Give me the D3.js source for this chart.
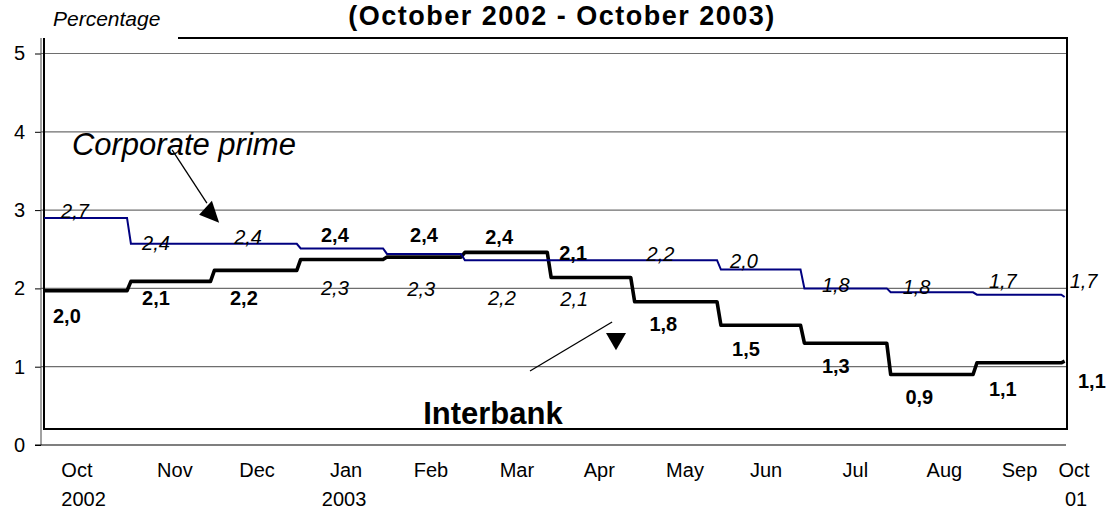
<!DOCTYPE html>
<html><head><meta charset="utf-8">
<script src="https://cdn.jsdelivr.net/npm/d3@7"></script>
<style>
body{margin:0;background:#fff}
svg{display:block}
text{font-family:"Liberation Sans",Arial,sans-serif;fill:#000}
</style>
</head><body>
<svg id="chart" width="1110" height="511"></svg>
<script>
// ---------------- data ----------------
const monthStarts = ["2002-10-01","2002-11-01","2002-12-01","2003-01-01","2003-02-01","2003-03-01",
  "2003-04-01","2003-05-01","2003-06-01","2003-07-01","2003-08-01","2003-09-01","2003-10-01"];
const primeValues     = [2.90,2.57,2.57,2.51,2.44,2.36,2.36,2.36,2.24,2.00,1.95,1.92];
const primeEnd        = 1.89;
const interbankValues = [1.97,2.09,2.23,2.37,2.40,2.46,2.14,1.83,1.53,1.30,0.90,1.05];
const interbankEnd    = 1.07;
const primeLabels     = ["2,7","2,4","2,4","2,3","2,3","2,2","2,1","2,2","2,0","1,8","1,8","1,7","1,7"];
const interbankLabels = ["2,0","2,1","2,2","2,4","2,4","2,4","2,1","1,8","1,5","1,3","0,9","1,1","1,1"];
const monthLabels = ["Oct","Nov","Dec","Jan","Feb","Mar","Apr","May","Jun","Jul","Aug","Sep","Oct"];
const yearLabels  = ["2002","2003","01"];
const yTicks = [0,1,2,3,4,5];
const titleText = "(October 2002 - October 2003)";
const yAxisTitle = "Percentage";
const primeName = "Corporate prime";
const interbankName = "Interbank";

// ---------------- layout (anchors in data units: days since 1 Oct 2002, percent) ----------------
const monthLabelDay = [12.3,47.5,77,109,139.5,170.4,200,230.8,259.9,292,324,351,370.6];
const yearLabelDay  = [14.7,108.3,371.3];
const primeLabelAt = [[11.6,2.99],[40.7,2.58],[73.8,2.66],[105,2.01],[136,1.99],[165,1.88],[191,1.86],
  [222,2.44],[252,2.35],[285,2.04],[314,2.02],[345,2.09],[374,2.09]];
const interbankLabelAt = [[8.7,1.65],[40.7,1.88],[72.3,1.88],[105,2.68],[137,2.68],[164,2.66],[190.6,2.45],
  [223,1.55],[252.7,1.23],[285,1.01],[315,0.61],[345,0.72],[377,0.82]];
const primeNameAt = [10.5,3.70];
const interbankNameAt = [136.7,0.27];
const primeArrow = {line:[[46.5,3.77],[59.0,3.09]], head:[[60.8,3.12],[56.2,2.94],[63.4,2.84]]};
const interbankArrow = {line:[[175.1,0.945],[204.6,1.571]], head:[[202.4,1.43],[209.6,1.43],[206.0,1.21]]};

// ---------------- scales ----------------
const svg = d3.select("#chart");
const t0 = new Date(monthStarts[0]);
const dayOf = s => d3.utcDay.count(t0, new Date(s));
const x = d3.scaleLinear().domain([0,365]).range([42.7,1058.5]);
const y = d3.scaleLinear().domain([0,5]).range([445,53.5]);
const P = p => [x(p[0]), y(p[1])];

// gridlines
svg.append("g").selectAll("line").data(yTicks.filter(d=>d>0)).join("line")
  .attr("x1",41).attr("x2",1066).attr("y1",d=>y(d)).attr("y2",d=>y(d))
  .attr("stroke","#6e6e6e").attr("stroke-width",1.2);

// y axis
const yAxis = d3.axisLeft(y).tickValues(yTicks).tickSize(6).tickPadding(10).tickFormat(d3.format("d"));
const ga = svg.append("g").attr("transform","translate(41,0)").call(yAxis);
ga.attr("font-family",null).attr("font-size",null);
ga.select(".domain").remove();
ga.selectAll(".tick line").attr("stroke","#000");
ga.selectAll(".tick text").style("font-size","20px");
svg.append("line").attr("x1",41).attr("x2",41).attr("y1",38).attr("y2",y(0)).attr("stroke","#444").attr("stroke-width",1);
// x axis baseline
svg.append("line").attr("x1",35).attr("x2",1066).attr("y1",y(0)).attr("y2",y(0)).attr("stroke","#000").attr("stroke-width",1.2);

// frame
svg.append("path").attr("d","M178,38H1067V429H44V38")
  .attr("fill","none").attr("stroke","#000").attr("stroke-width",2);

// step series
function stepPoints(vals, endVal){
  const pts = [];
  vals.forEach((v,i)=>{
    const s = dayOf(monthStarts[i]), e = dayOf(monthStarts[i+1]);
    pts.push([i===0 ? 0.5 : s+0.7, v]);
    pts.push([i===vals.length-1 ? e+1 : e-0.7, v]);
  });
  pts.push([dayOf(monthStarts[monthStarts.length-1])+2.2, endVal]);
  return pts;
}
const line = d3.line().x(d=>x(d[0])).y(d=>y(d[1]));
svg.append("path").attr("d",line(stepPoints(interbankValues,interbankEnd)))
  .attr("fill","none").attr("stroke","#000").attr("stroke-width",3.6).attr("stroke-linejoin","round");
svg.append("path").attr("d",line(stepPoints(primeValues,primeEnd)))
  .attr("fill","none").attr("stroke","#000080").attr("stroke-width",2);

// value labels
svg.append("g").selectAll("text").data(primeLabels).join("text")
  .attr("x",(d,i)=>x(primeLabelAt[i][0])).attr("y",(d,i)=>y(primeLabelAt[i][1]))
  .attr("dy","0.35em").attr("text-anchor","middle")
  .style("font-size","20px").style("font-style","italic").text(d=>d);
svg.append("g").selectAll("text").data(interbankLabels).join("text")
  .attr("x",(d,i)=>x(interbankLabelAt[i][0])).attr("y",(d,i)=>y(interbankLabelAt[i][1]))
  .attr("dy","0.35em").attr("text-anchor","middle")
  .style("font-size","20px").style("font-weight","bold").text(d=>d);

// month / year labels
svg.append("g").selectAll("text").data(monthLabels).join("text")
  .attr("x",(d,i)=>x(monthLabelDay[i])).attr("y",477).attr("text-anchor","middle")
  .style("font-size","20px").text(d=>d);
svg.append("g").selectAll("text").data(yearLabels).join("text")
  .attr("x",(d,i)=>x(yearLabelDay[i])).attr("y",506).attr("text-anchor","middle")
  .style("font-size","20px").text(d=>d);

// annotations
svg.append("text").attr("x",x(primeNameAt[0])).attr("y",y(primeNameAt[1]))
  .style("font-size","31px").style("font-style","italic").text(primeName);
svg.append("text").attr("x",x(interbankNameAt[0])).attr("y",y(interbankNameAt[1]))
  .style("font-size","31px").style("font-weight","bold").text(interbankName);
[primeArrow, interbankArrow].forEach(a=>{
  svg.append("line").attr("x1",P(a.line[0])[0]).attr("y1",P(a.line[0])[1])
    .attr("x2",P(a.line[1])[0]).attr("y2",P(a.line[1])[1]).attr("stroke","#000").attr("stroke-width",1.3);
  svg.append("path").attr("d","M"+a.head.map(P).map(p=>p.join(",")).join("L")+"Z").attr("fill","#000");
});

// titles
svg.append("text").attr("x",53).attr("y",26).style("font-size","21px").style("font-style","italic").text(yAxisTitle);
svg.append("text").attr("x",562).attr("y",25).attr("text-anchor","middle")
  .style("font-size","27px").style("font-weight","bold").style("letter-spacing","1.5px").text(titleText);
</script>
</body></html>
